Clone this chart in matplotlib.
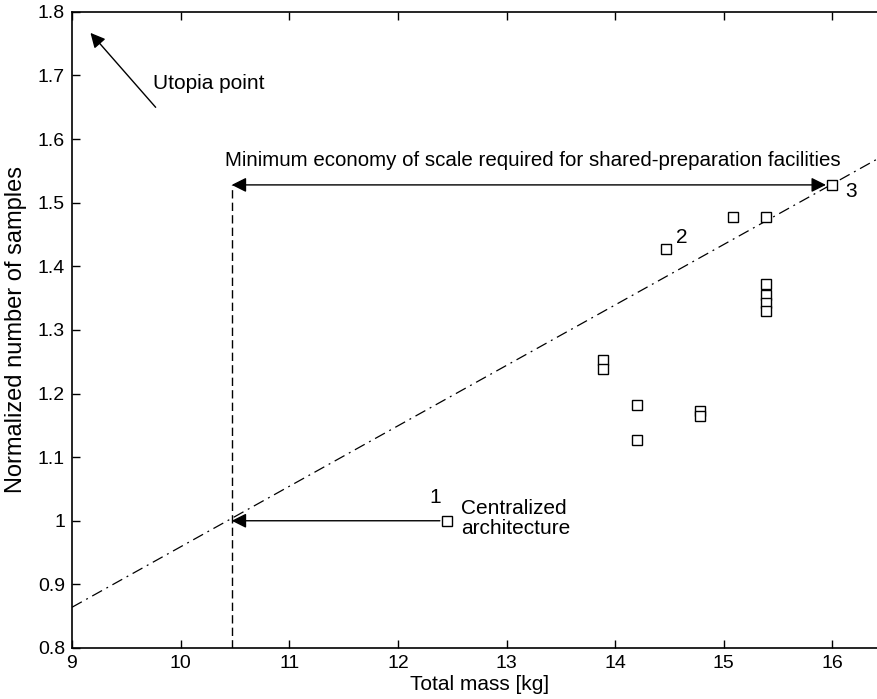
import numpy as np
import matplotlib
matplotlib.use('Agg')
import matplotlib.pyplot as plt

plt.rcParams['font.family'] = ['Liberation Sans', 'DejaVu Sans']

# design points
mass = [12.45, 14.47, 16.0, 15.08, 15.39,
        15.39, 15.39, 15.39, 15.39,
        13.89, 13.89, 14.2, 14.2, 14.78, 14.78]
samples = [1.0, 1.427, 1.528, 1.477, 1.478,
           1.372, 1.355, 1.343, 1.330,
           1.253, 1.238, 1.182, 1.127, 1.172, 1.165]

# dash-dot reference line (end points)
line_x = [9.0, 16.5]
line_y = [0.864, 1.577]

x_break = 10.47   # mass where the line crosses 1.0
central = (12.45, 1.0)
best = (16.0, 1.528)
utopia_tip = (9.17, 1.767)
utopia_tail = (9.77, 1.65)

xticks = [9, 10, 11, 12, 13, 14, 15, 16]
yticks = [0.8, 0.9, 1.0, 1.1, 1.2, 1.3, 1.4, 1.5, 1.6, 1.7, 1.8]
ytick_labels = ['0.8', '0.9', '1', '1.1', '1.2', '1.3', '1.4', '1.5', '1.6', '1.7', '1.8']

fig = plt.figure(figsize=(8.78, 6.99), dpi=100)
ax = fig.add_axes([0.082, 0.073, 0.928, 0.910])

ax.plot(line_x, line_y, color='k', lw=0.9, linestyle=(0, (9, 4, 1.5, 4)))
ax.plot([x_break, x_break], [0.8, best[1]], color='k', lw=1.0, linestyle=(0, (6, 3)))
ax.plot(mass, samples, 's', ms=6.5, mfc='white', mec='k', mew=1.0, zorder=5)

arr = dict(arrowstyle='-|>', color='k', lw=1.0, mutation_scale=22, shrinkA=5, shrinkB=0)
ax.annotate('', xy=(x_break, central[1]), xytext=central, arrowprops=arr)
ax.annotate('', xy=utopia_tip, xytext=utopia_tail,
            arrowprops=dict(arr, shrinkA=0))
ax.annotate('', xy=(best[0] - 0.06, best[1]), xytext=(x_break, best[1]),
            arrowprops=dict(arrowstyle='<|-|>', color='k', lw=1.0, mutation_scale=22,
                            shrinkA=0, shrinkB=0))

ax.text(9.75, 1.688, 'Utopia point', fontsize=15, va='center', ha='left')
ax.text(10.41, 1.567, 'Minimum economy of scale required for shared-preparation facilities',
        fontsize=14.8, va='center', ha='left')
ax.text(12.58, 1.004, 'Centralized\narchitecture', fontsize=15, va='center', ha='left',
        linespacing=1.05)
ax.text(12.34, 1.037, '1', fontsize=15, va='center', ha='center')
ax.text(14.61, 1.445, '2', fontsize=15, va='center', ha='center')
ax.text(16.17, 1.517, '3', fontsize=15, va='center', ha='center')

ax.set_xlim(9, 16.5)
ax.set_ylim(0.8, 1.8)
ax.set_xticks(xticks)
ax.set_yticks(yticks)
ax.set_yticklabels(ytick_labels)
ax.tick_params(direction='in', top=True, right=True, length=6, width=1, labelsize=14, pad=5)
for s in ax.spines.values():
    s.set_linewidth(1.2)

ax.set_xlabel('Total mass [kg]', fontsize=15, labelpad=2)
ax.set_ylabel('Normalized number of samples', fontsize=17, labelpad=8)

plt.savefig('out.png', dpi=100)
